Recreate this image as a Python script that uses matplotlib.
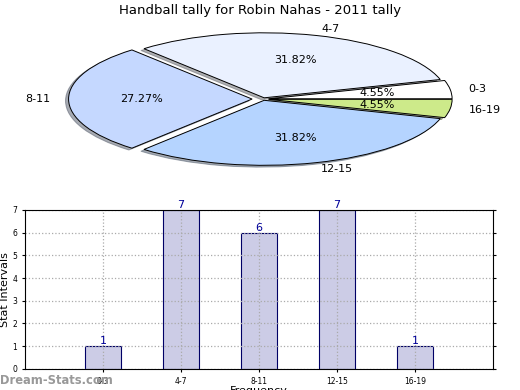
import matplotlib.pyplot as plt

categories = ["0-3", "4-7", "8-11", "12-15", "16-19"]
counts = [1, 7, 6, 7, 1]
pie_colors = ["#ffffff", "#eaf1ff", "#c5d8ff", "#b5d4ff", "#cdea8a"]
explode = [0.03, 0.02, 0.06, 0.02, 0.03]

fig = plt.figure(figsize=(5.2, 3.9), dpi=100)

# pie, squashed into an ellipse
pie_ax = fig.add_axes([0.026, 0.526, 0.96, 0.44])
pie_ax.pie(
    counts,
    labels=categories,
    colors=pie_colors,
    explode=explode,
    autopct="%.2f%%",
    startangle=0,
    shadow=dict(ox=-0.012, oy=-0.02, shade=0.6),
    wedgeprops=dict(edgecolor="black", linewidth=0.7),
    textprops=dict(fontsize=8),
)
pie_ax.set_aspect("auto")
pie_ax.set_xlim(-1.36, 1.36)
pie_ax.set_ylim(-1.32, 1.32)

fig.text(0.5, 0.972, "Handball tally for Robin Nahas - 2011 tally",
         ha="center", va="center", fontsize=9.5)

# bar chart
bar_ax = fig.add_axes([0.048, 0.054, 0.9, 0.408])
x = range(len(categories))
bar_ax.bar(x, counts, width=0.46, color="#ccccE6", edgecolor="#000066",
           linewidth=0.8, zorder=1)
for xi, c in zip(x, counts):
    bar_ax.text(xi, c, str(c), ha="center", va="bottom", fontsize=8,
                color="#000099")
bar_ax.set_xlim(-1, 5)
bar_ax.set_ylim(0, 7)
bar_ax.set_xticks(list(x))
bar_ax.set_xticklabels(categories)
bar_ax.set_yticks(range(8))
bar_ax.tick_params(labelsize=5.5, length=2, right=True)
bar_ax.grid(True, linestyle=":", color="#aaaaaa", linewidth=0.9)
bar_ax.set_axisbelow("line")
bar_ax.set_ylabel("Stat Intervals", fontsize=8, labelpad=2)
bar_ax.set_xlabel("Frequency", fontsize=8, labelpad=0)

fig.text(0.0, 0.025, "Dream-Stats.com", color="#999999", fontsize=8.3,
         fontweight="bold", ha="left", va="center")

fig.savefig("out.png", dpi=100)
